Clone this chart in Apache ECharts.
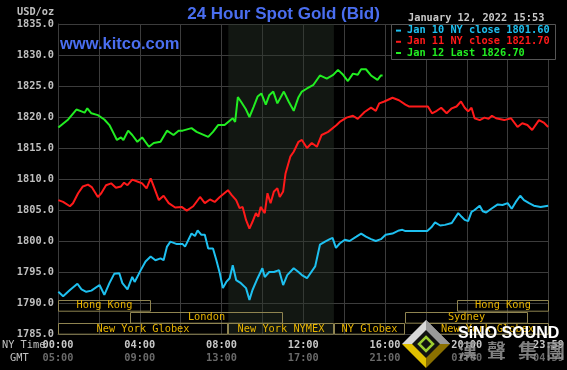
<!DOCTYPE html>
<html><head><meta charset="utf-8">
<script src="https://cdn.jsdelivr.net/npm/echarts@6/dist/echarts.min.js"></script>
<style>html,body{margin:0;padding:0;background:#000;}#c{width:567px;height:370px;}</style>
</head><body><div id="c"></div>
<script>
// ---- data (minutes after 00:00 NY time, price USD/oz) ----
const jan10Times = [1,15,35,57,69,83,98,122,136,151,165,180,189,204,218,225,243,257,272,286,301,310,320,330,349,366,373,392,402,410,421,431,441,455,465,475,484,494,504,513,523,537,552,562,571,586,600,607,620,634,649,661,673,692,706,716,731,755,769,784,798,806,816,827,842,856,876,890,904,919,933,948,962,982,1001,1011,1020,1084,1096,1107,1122,1136,1156,1175,1185,1194,1204,1214,1223,1238,1247,1257,1272,1291,1305,1320,1332,1344,1357,1368,1383,1397,1417,1439];
const jan10Values = [1791.8,1791.1,1792.1,1793.1,1792.2,1791.8,1792.0,1792.9,1791.3,1793.2,1794.7,1794.8,1793.2,1792.2,1794.2,1793.4,1795.3,1796.7,1797.5,1796.9,1797.2,1796.9,1799.1,1799.9,1799.5,1799.5,1799.1,1801.2,1800.8,1801.7,1801.0,1801.0,1798.8,1798.8,1796.9,1794.8,1792.4,1793.4,1794.0,1796.1,1793.7,1793.2,1792.4,1790.5,1792.1,1794.0,1795.6,1794.2,1795.0,1795.0,1795.3,1792.9,1794.5,1795.6,1795.0,1794.5,1794.0,1795.9,1799.4,1799.9,1800.3,1800.5,1798.9,1799.6,1800.2,1800.0,1800.7,1801.2,1800.7,1800.3,1800.0,1800.3,1801.0,1801.2,1801.7,1801.8,1801.6,1801.6,1802.2,1803.0,1802.5,1802.6,1802.9,1804.5,1803.9,1803.4,1803.2,1804.7,1805.0,1805.7,1804.8,1804.6,1805.2,1805.9,1805.8,1806.1,1805.2,1806.3,1807.3,1806.6,1806.1,1805.7,1805.5,1805.7];

const jan11Times = [1,15,35,44,59,73,88,99,117,127,141,156,170,185,194,204,218,233,247,260,272,281,296,310,325,344,363,378,397,417,431,446,460,475,499,510,523,533,542,552,562,571,581,588,595,607,615,624,634,644,651,661,668,682,692,706,716,731,745,760,774,793,818,827,847,866,880,900,919,933,943,958,982,1001,1020,1030,1086,1098,1112,1125,1141,1156,1170,1183,1194,1204,1214,1223,1238,1252,1264,1274,1286,1310,1330,1349,1363,1378,1392,1412,1426,1439];
const jan11Values = [1806.6,1806.3,1805.6,1806.1,1807.7,1808.8,1809.1,1808.7,1807.1,1807.7,1809.0,1809.3,1808.6,1808.8,1809.4,1809.0,1809.9,1809.6,1809.3,1808.5,1810.1,1808.8,1806.6,1807.3,1806.1,1805.4,1805.5,1804.9,1805.6,1807.1,1806.1,1806.7,1806.3,1807.1,1808.2,1807.4,1806.6,1805.3,1805.5,1803.4,1802.0,1803.1,1804.5,1803.9,1805.5,1804.5,1807.7,1806.1,1808.0,1808.5,1807.1,1808.0,1810.9,1813.6,1814.4,1816.0,1816.3,1815.0,1815.8,1815.2,1817.1,1817.6,1818.7,1819.2,1819.9,1820.2,1819.7,1820.8,1821.5,1821.0,1822.2,1822.5,1823.1,1822.7,1822.0,1821.7,1821.7,1820.6,1821.0,1821.5,1820.6,1821.4,1821.7,1822.5,1821.5,1820.9,1821.5,1819.8,1819.5,1819.9,1819.7,1820.2,1819.8,1819.5,1819.8,1818.4,1819.0,1818.7,1817.9,1819.5,1819.1,1818.4];

const jan12Times = [1,30,54,69,78,86,98,117,136,151,163,173,185,192,206,218,233,247,267,281,301,320,339,354,366,392,407,441,455,470,489,513,520,528,537,552,562,574,586,597,610,620,632,644,663,677,692,706,716,731,750,769,789,808,822,837,851,866,880,890,904,919,938,948,953];
const jan12Values = [1818.3,1819.6,1821.2,1820.9,1820.7,1821.4,1820.6,1820.3,1819.6,1818.7,1817.4,1816.3,1816.7,1816.3,1817.8,1817.1,1816.0,1816.7,1815.2,1815.8,1816.0,1817.8,1817.1,1817.8,1817.8,1818.2,1817.6,1816.8,1817.6,1818.7,1818.7,1819.8,1819.2,1823.2,1822.5,1821.2,1820.0,1821.6,1823.3,1823.8,1822.0,1823.5,1824.1,1822.2,1824.1,1822.5,1821.0,1823.2,1824.1,1824.6,1825.2,1826.7,1826.2,1826.8,1827.6,1826.8,1825.8,1827.0,1826.8,1827.7,1827.7,1826.7,1826.0,1826.7,1826.7];

const seriesNames = ['Jan 10 NY close 1801.60', 'Jan 11 NY close 1821.70', 'Jan 12 Last 1826.70'];

// tick labels
const tickMinutes = [0, 240, 480, 720, 960, 1200, 1440];
const nyLabels  = ['00:00','04:00','08:00','12:00','16:00','20:00','23:59'];
const gmtLabels = ['05:00','09:00','13:00','17:00','21:00','01:00','04:59'];

// trading sessions
const sessionNames = ['Hong Kong','London','New York Globex','New York NYMEX','NY Globex','New York Globex','Sydney','Hong Kong'];
const sessionStart = [0, 210, 0, 500, 810, 1080, 1020, 1170];
const sessionEnd   = [272, 660, 500, 810, 1020, 1440, 1380, 1440];
const sessionRow   = [0, 1, 2, 2, 2, 2, 1, 0];

const nymexShade = [500, 810];

// ---- chart ----
const MONO = '"DejaVu Sans Mono", monospace';
const pair = (t, v) => t.map((x, i) => [x, v[i]]);
const sessionData = sessionNames.map((n, i) => [sessionStart[i], sessionEnd[i], sessionRow[i], n]);

const chart = echarts.init(document.getElementById('c'));
chart.setOption({
  backgroundColor: '#000',
  animation: false,
  title: {
    text: '24 Hour Spot Gold (Bid)', left: 'center', top: 1,
    textStyle: { color: '#4a6ef0', fontSize: 17, fontWeight: 'bold', fontFamily: '"Liberation Sans", Arial, sans-serif' }
  },
  grid: { left: 58, right: 11, top: 24, bottom: 36 },
  legend: {
    orient: 'vertical', left: 396, top: 25, padding: 0, itemGap: 0,
    itemWidth: 5, itemHeight: 2, icon: 'rect', selectedMode: false, z: 10,
    textStyle: { fontFamily: MONO, fontSize: 10.3, fontWeight: 'bold', lineHeight: 11.2, padding: [0,0,0,1] },
    data: [
      { name: seriesNames[0], textStyle: { color: '#1ec0f0' } },
      { name: seriesNames[1], textStyle: { color: '#ff1a1a' } },
      { name: seriesNames[2], textStyle: { color: '#22ee22' } }
    ]
  },
  xAxis: {
    type: 'value', min: 0, max: 1440, interval: 120,
    axisLine: { show: true, lineStyle: { color: '#3c3c3c' } },
    axisTick: { show: false },
    splitLine: { show: true, lineStyle: { color: '#3c3c3c', width: 1 } },
    axisLabel: {
      margin: 5, showMaxLabel: true,
      formatter: v => { const i = tickMinutes.indexOf(v); return i < 0 ? '' : '{a|' + nyLabels[i] + '}\n{b|' + gmtLabels[i] + '}'; },
      rich: {
        a: { color: '#c8c8c8', fontFamily: MONO, fontSize: 10.3, fontWeight: 'bold', lineHeight: 13 },
        b: { color: '#6a6a6a', fontFamily: MONO, fontSize: 10.3, fontWeight: 'bold', lineHeight: 13 }
      }
    }
  },
  yAxis: {
    type: 'value', min: 1785, max: 1835, interval: 5,
    axisLine: { show: true, lineStyle: { color: '#3c3c3c' } },
    axisTick: { show: false },
    splitLine: { show: true, lineStyle: { color: '#3c3c3c', width: 1 } },
    axisLabel: { margin: 4, color: '#c0c0c0', fontFamily: MONO, fontSize: 10.3, fontWeight: 'bold', formatter: v => v.toFixed(1) }
  },
  series: [
    {
      name: 'sessions', type: 'custom', z: 1, silent: true,
      encode: { x: [0, 1], y: 2 },
      data: sessionData,
      renderItem: (params, api) => {
        const a = api.coord([api.value(0), 1785]);
        const b = api.coord([api.value(1), 1785]);
        const row = api.value(2);
        const top = a[1] - 34 + row * 11.7;
        const x0 = Math.round(a[0]) + 0.5, x1 = Math.round(b[0]) - 0.5;
        return {
          type: 'group',
          children: [
            { type: 'rect', shape: { x: x0, y: Math.round(top) + 0.5, width: x1 - x0, height: 10.7 },
              style: { fill: 'none', stroke: '#8f8450', lineWidth: 1 } },
            { type: 'text', style: { text: sessionNames[params.dataIndex], x: (x0 + x1) / 2, y: top + 5.8,
              fill: '#e8b400', font: '10.3px ' + MONO, textAlign: 'center', textVerticalAlign: 'middle' } }
          ]
        };
      }
    },
    {
      name: seriesNames[0], type: 'line', data: pair(jan10Times, jan10Values), showSymbol: false, z: 3,
      lineStyle: { color: '#1ec0f0', width: 2 }, itemStyle: { color: '#1ec0f0' },
      markArea: { silent: true, itemStyle: { color: 'rgba(42,56,42,0.42)' },
        data: [[{ xAxis: nymexShade[0] }, { xAxis: nymexShade[1] }]] }
    },
    {
      name: seriesNames[1], type: 'line', data: pair(jan11Times, jan11Values), showSymbol: false, z: 3,
      lineStyle: { color: '#ff1a1a', width: 2 }, itemStyle: { color: '#ff1a1a' }
    },
    {
      name: seriesNames[2], type: 'line', data: pair(jan12Times, jan12Values), showSymbol: false, z: 3,
      lineStyle: { color: '#22ee22', width: 2 }, itemStyle: { color: '#22ee22' }
    }
  ],
  graphic: [
    { type: 'rect', z: 5, shape: { x: 391.5, y: 24.5, width: 164, height: 35 }, style: { fill: '#000', stroke: '#555', lineWidth: 1 } },
    { type: 'text', z: 5, style: { text: 'USD/oz', x: 17, y: 12, fill: '#c0c0c0', font: 'bold 10.3px ' + MONO, textVerticalAlign: 'middle' } },
    { type: 'text', z: 5, style: { text: 'www.kitco.com', x: 60, y: 44, fill: '#4a6ef0', font: 'bold 16.5px "Liberation Sans", Arial, sans-serif', textVerticalAlign: 'middle' } },
    { type: 'text', z: 5, style: { text: 'January 12, 2022 15:53', x: 408, y: 18, fill: '#c8c8c8', font: 'bold 10.3px ' + MONO, textVerticalAlign: 'middle' } },
    { type: 'text', z: 5, style: { text: 'NY Time', x: 2, y: 345, fill: '#c0c0c0', font: '10.3px ' + MONO, textVerticalAlign: 'middle' } },
    { type: 'text', z: 5, style: { text: 'GMT', x: 10, y: 358, fill: '#c0c0c0', font: '10.3px ' + MONO, textVerticalAlign: 'middle' } },
    // watermark logo
    { type: 'polygon', z: 20, shape: { points: [[426,320],[450,344],[426,344],[402,344]] }, style: { fill: '#d8d8d8' } },
    { type: 'polygon', z: 20, shape: { points: [[426,320],[450,344],[426,344]] }, style: { fill: '#9a9a9a' } },
    { type: 'polygon', z: 20, shape: { points: [[402,344],[426,368],[426,344]] }, style: { fill: '#e0c000' } },
    { type: 'polygon', z: 20, shape: { points: [[450,344],[426,368],[426,344]] }, style: { fill: '#8a7000' } },
    { type: 'polygon', z: 21, shape: { points: [[426,330],[440,344],[426,358],[412,344]] }, style: { fill: '#111' } },
    { type: 'polygon', z: 22, shape: { points: [[426,337],[433,344],[426,351],[419,344]] }, style: { fill: 'none', stroke: '#9ccc30', lineWidth: 2.5 } },
    { type: 'text', z: 22, style: { text: 'SiNO SOUND', x: 458, y: 334, fill: '#ffffff', font: 'bold 16px "Liberation Sans", Arial, sans-serif', textVerticalAlign: 'middle' } },
    { type: 'text', z: 22, style: { text: '漢', x: 458, y: 351, fill: 'rgba(150,150,150,0.85)', font: 'bold 19px "Noto Sans CJK TC", sans-serif', textVerticalAlign: 'middle' } },
    { type: 'text', z: 22, style: { text: '聲', x: 487, y: 351, fill: 'rgba(150,150,150,0.85)', font: 'bold 19px "Noto Sans CJK TC", sans-serif', textVerticalAlign: 'middle' } },
    { type: 'text', z: 22, style: { text: '集', x: 518, y: 351, fill: 'rgba(150,150,150,0.85)', font: 'bold 19px "Noto Sans CJK TC", sans-serif', textVerticalAlign: 'middle' } },
    { type: 'text', z: 22, style: { text: '團', x: 546, y: 351, fill: 'rgba(150,150,150,0.85)', font: 'bold 19px "Noto Sans CJK TC", sans-serif', textVerticalAlign: 'middle' } }
  ]
});
</script>
</body></html>
